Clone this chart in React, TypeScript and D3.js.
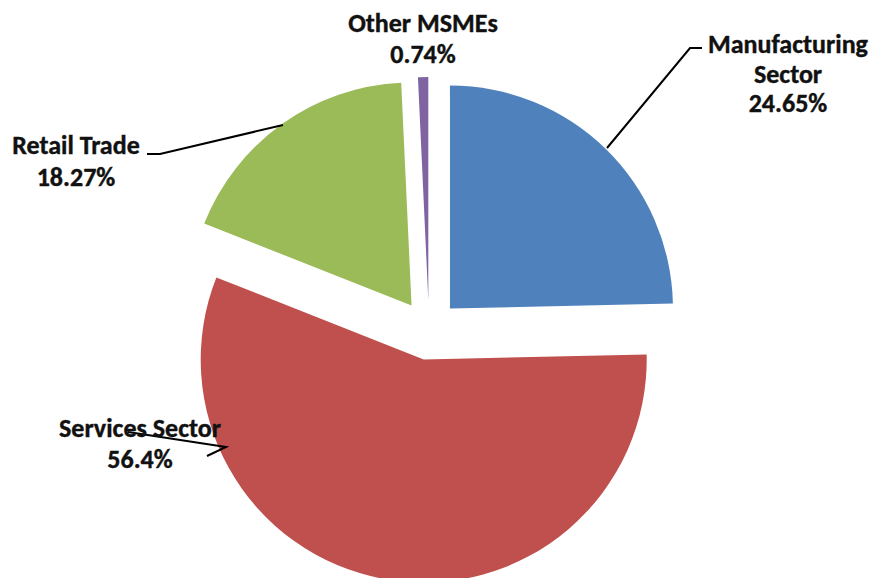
import React from "react";
import * as d3 from "d3";

const categories = ["Manufacturing Sector", "Services Sector", "Retail Trade", "Other MSMEs"];
const values = [24.65, 56.4, 18.27, 0.74];
const valueLabels = ["24.65%", "56.4%", "18.27%", "0.74%"];
const labelLines = [
  ["Manufacturing", "Sector", "24.65%"],
  ["Services Sector", "56.4%"],
  ["Retail Trade", "18.27%"],
  ["Other MSMEs", "0.74%"],
];
const colors = ["#4F81BD", "#C0504D", "#9BBB59", "#8064A2"];

const W = 874;
const H = 578;
const cx = 429;
const cy = 330;
const R = 223;
const explode = 30;

// label layout (center x, first baseline y, line height)
const labelLayout = [
  { x: 788, y: 53, lh: 29.5 },
  { x: 140, y: 437, lh: 31 },
  { x: 76, y: 154, lh: 32 },
  { x: 423, y: 32, lh: 31 },
];
// leader lines (absolute coords)
const leaders = [
  [[702, 48], [690, 48], [607, 148]],
  [[128, 432], [226, 447], [207, 456]],
  [[147, 154], [160, 154], [283, 125]],
  [],
];

export default function App() {
  const pie = d3
    .pie<number>()
    .sort(null)
    .value((d) => d)
    .startAngle(0)
    .endAngle(2 * Math.PI);
  const arcs = pie(values);
  const arc = d3.arc<d3.PieArcDatum<number>>().innerRadius(0).outerRadius(R);
  const line = d3.line();

  return (
    <svg
      width={W}
      height={H}
      style={{ position: "absolute", left: 0, top: 0, background: "#fff" }}
      fontFamily="Carlito, Lato, 'Open Sans', sans-serif"
    >
      <rect width={W} height={H} fill="#fff" />
      {arcs.map((a, i) => {
        const mid = (a.startAngle + a.endAngle) / 2;
        const dx = Math.sin(mid) * explode;
        const dy = -Math.cos(mid) * explode;
        return (
          <path
            key={categories[i]}
            d={arc(a) || ""}
            fill={colors[i]}
            transform={`translate(${cx + dx},${cy + dy})`}
          />
        );
      })}
      {leaders.map((pts, i) =>
        pts.length ? (
          <path
            key={"l" + i}
            d={line(pts as [number, number][]) || ""}
            fill="none"
            stroke="#000"
            strokeWidth={2}
          />
        ) : null
      )}
      {labelLines.map((lines, i) => (
        <text
          key={"t" + i}
          x={labelLayout[i].x}
          y={labelLayout[i].y}
          textAnchor="middle"
          fontWeight="bold"
          fontSize={26}
          fill="#111"
          stroke="#111"
          strokeWidth={0.4}
        >
          {lines.map((ln, j) => (
            <tspan key={j} x={labelLayout[i].x} y={labelLayout[i].y + j * labelLayout[i].lh}>
              {ln}
            </tspan>
          ))}
        </text>
      ))}
    </svg>
  );
}
